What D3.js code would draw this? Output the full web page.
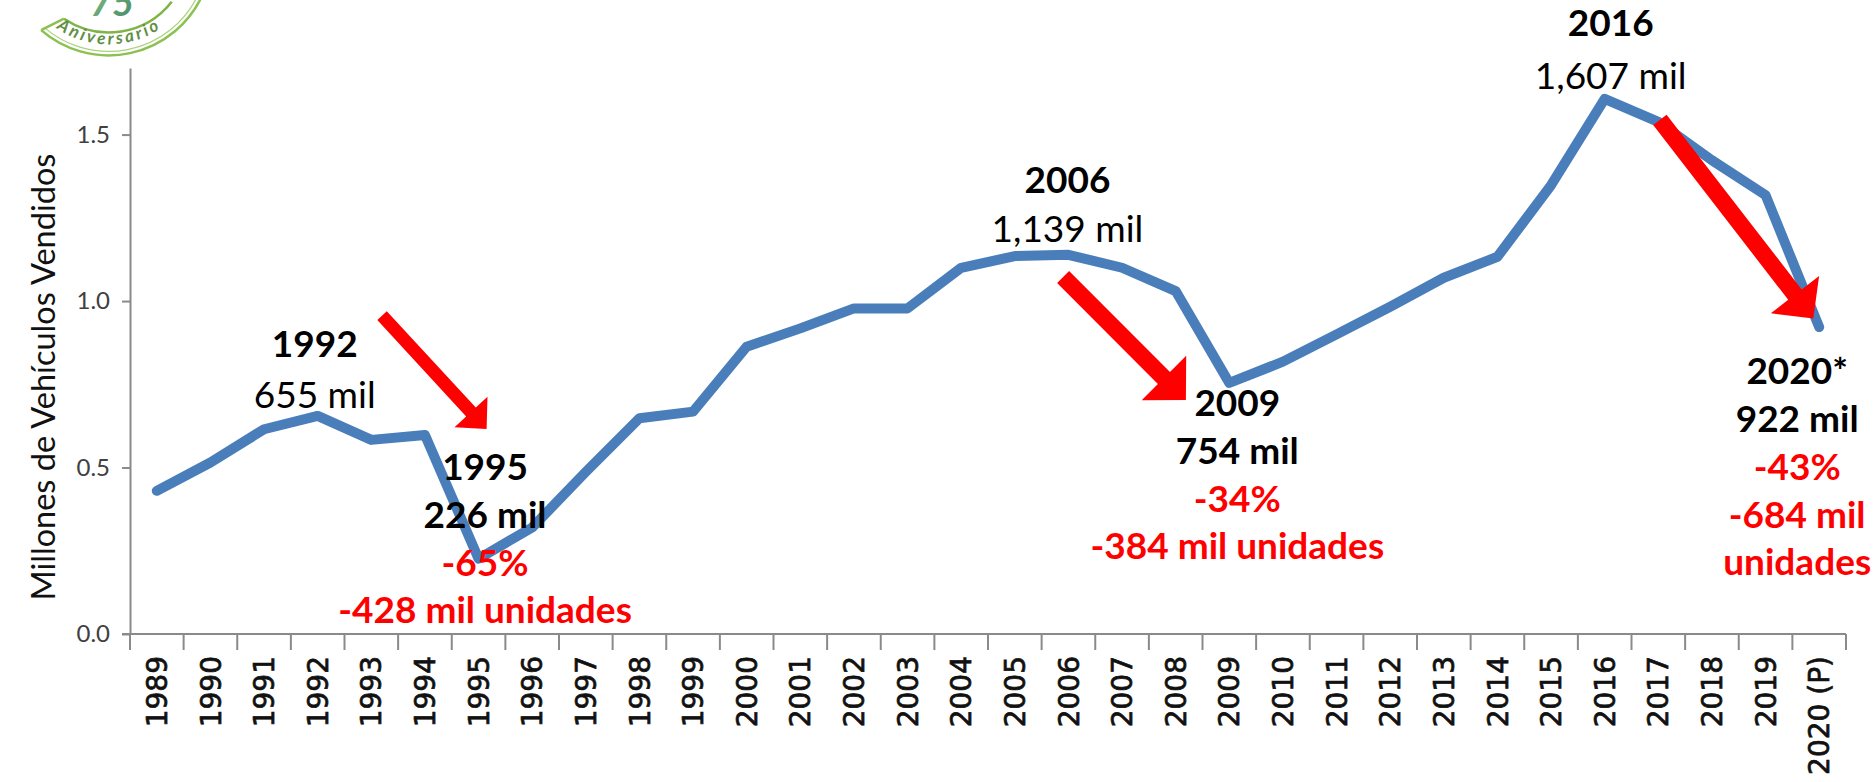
<!DOCTYPE html>
<html><head><meta charset="utf-8">
<script src="https://cdn.jsdelivr.net/npm/d3@7"></script>
<style>body{margin:0;background:#fff;} svg{display:block;}</style>
</head><body>
<svg id="c" width="1876" height="782"></svg>
<script>
// ---------------- data ----------------
const years = ["1989","1990","1991","1992","1993","1994","1995","1996","1997","1998","1999","2000",
  "2001","2002","2003","2004","2005","2006","2007","2008","2009","2010","2011","2012","2013","2014",
  "2015","2016","2017","2018","2019","2020 (P)"];
const sales = [0.43,0.515,0.615,0.655,0.583,0.598,0.226,0.32,0.487,0.648,0.668,0.863,
  0.918,0.978,0.978,1.10,1.135,1.139,1.10,1.03,0.754,0.818,0.90,0.983,1.07,1.133,
  1.348,1.607,1.538,1.423,1.318,0.922];
const yTicks = [0, 0.5, 1.0, 1.5];
const yTitle = "Millones de Vehículos Vendidos";

// annotation texts
const annoYears = ["1992","1995","2006","2009","2016","2020 (P)"];
const annoTexts = [
  ["1992","655 mil"],
  ["1995","226 mil","-65%","-428 mil unidades"],
  ["2006","1,139 mil"],
  ["2009","754 mil","-34%","-384 mil unidades"],
  ["2016","1,607 mil"],
  ["2020*","922 mil","-43%","-684 mil","unidades"]
];
// arrows: [tailYear, tailValue] -> [tipYear, tipValue]
const arrowFrom = [[1993.2,0.956],[2005.9,1.072],[2017.03,1.544]];
const arrowTo   = [[1995.15,0.616],[2008.19,0.703],[2019.89,0.948]];

// ---------------- layout / style ----------------
const W=1876,H=782;
const plot={left:130,right:1846,top:68,bottom:634};
const lineColor="#4a7ebb", axisColor="#8a8a8a", red="#ff0000";
const annoStyle = [
  {dx:-3, base:[-59,-8],            w:["b","n"],            c:["#000","#000"]},
  {dx:6.5,base:[-79,-31,17,64],     w:["b","b","b","b"],    c:["#000","#000",red,red]},
  {dx:-1, base:[-62,-13],           w:["b","n"],            c:["#000","#000"]},
  {dx:8,  base:[33,81,129,176],     w:["b","b","b","b"],    c:["#000","#000",red,red]},
  {dx:6,  base:[-63,-10],           w:["b","n"],            c:["#000","#000"]},
  {dx:-22,base:[57,105,153,201,248],w:["b","b","b","b","b"],c:["#000","#000",red,red,red]}
];
const arrowStyle=[{w:13,hw:45,hl:23},{w:17,hw:63,hl:31},{w:17,hw:61,hl:30}];

const svg=d3.select("#c");
svg.append("rect").attr("width",W).attr("height",H).attr("fill","#fff");

const x=d3.scaleBand().domain(years).range([plot.left,plot.right]).padding(0);
const xc=d=>x(d)+x.bandwidth()/2;
const xYear=d3.scaleLinear().domain([1988.5,2020.5]).range([plot.left,plot.right]);
const y=d3.scaleLinear().domain([0,1.7]).range([plot.bottom,plot.top]);

// ---------------- axes ----------------
const yAx=svg.append("g").attr("transform",`translate(${plot.left},0)`)
  .call(d3.axisLeft(y).tickValues(yTicks).tickFormat(d3.format(".1f")).tickSize(8).tickSizeOuter(0).tickPadding(12));
yAx.select(".domain").attr("stroke",axisColor).attr("stroke-width",2);
yAx.selectAll(".tick line").attr("stroke",axisColor).attr("stroke-width",2);
yAx.selectAll(".tick text").attr("font-family","Lato").attr("font-size",24).attr("fill","#404040");

// x axis line (extends left by tick length)
svg.append("line").attr("x1",plot.left-8).attr("x2",plot.right)
  .attr("y1",y(0)).attr("y2",y(0)).attr("stroke",axisColor).attr("stroke-width",2);
// boundary ticks
const bounds=years.map(d=>x(d)).concat([x.range()[1]]);
svg.append("g").selectAll("line").data(bounds).join("line")
  .attr("x1",d=>d).attr("x2",d=>d).attr("y1",y(0)).attr("y2",y(0)+16)
  .attr("stroke",axisColor).attr("stroke-width",2);
// x labels
svg.append("g").selectAll("text").data(years).join("text")
  .attr("transform",d=>`translate(${xc(d)},${y(0)+22}) rotate(-90)`)
  .attr("text-anchor","end").attr("dy","0.36em")
  .attr("font-family","DejaVu Sans").attr("font-size",28)
  .attr("fill","#111").attr("stroke","#111").attr("stroke-width",0.7).text(d=>d);

// y title
svg.append("text").attr("transform",`translate(55,377) rotate(-90)`)
  .attr("text-anchor","middle").attr("font-family","Lato").attr("font-size",32.5)
  .attr("fill","#111").text(yTitle);

// ---------------- line ----------------
svg.append("path").datum(sales)
  .attr("d",d3.line().x((d,i)=>xc(years[i])).y(d=>y(d)))
  .attr("fill","none").attr("stroke",lineColor).attr("stroke-width",10)
  .attr("stroke-linejoin","round").attr("stroke-linecap","round");

// ---------------- arrows ----------------
function arrowPath(T,P,s){
  const dx=P[0]-T[0],dy=P[1]-T[1],L=Math.hypot(dx,dy);
  const u=[dx/L,dy/L],n=[-u[1],u[0]];
  const B=[P[0]-u[0]*s.hl,P[1]-u[1]*s.hl];
  const pt=(p,k)=>[p[0]+n[0]*k,p[1]+n[1]*k];
  const pts=[pt(T,s.w/2),pt(B,s.w/2),pt(B,s.hw/2),P,pt(B,-s.hw/2),pt(B,-s.w/2),pt(T,-s.w/2)];
  return "M"+pts.map(p=>p[0].toFixed(1)+","+p[1].toFixed(1)).join("L")+"Z";
}
svg.append("g").selectAll("path").data(arrowFrom).join("path")
  .attr("d",(d,i)=>arrowPath([xYear(d[0]),y(d[1])],[xYear(arrowTo[i][0]),y(arrowTo[i][1])],arrowStyle[i]))
  .attr("fill",red);

// ---------------- annotations ----------------
annoYears.forEach((yr,i)=>{
  const idx=years.indexOf(yr);
  const cx=xc(yr)+annoStyle[i].dx, cy=y(sales[idx]);
  annoTexts[i].forEach((t,j)=>{
    svg.append("text").attr("x",cx).attr("y",cy+annoStyle[i].base[j])
      .attr("text-anchor","middle").attr("font-family","Lato")
      .attr("font-weight",annoStyle[i].w[j]==="b"?"bold":"normal")
      .attr("font-size",37).attr("fill",annoStyle[i].c[j]).text(t);
  });
});

// ---------------- logo (75 Aniversario) ----------------
const lg=svg.append("g");
const defs=svg.append("defs");
const gr=defs.append("linearGradient").attr("id","g75").attr("x1","0").attr("y1","0").attr("x2","1").attr("y2","1");
gr.append("stop").attr("offset","0").attr("stop-color","#8fc08a");
gr.append("stop").attr("offset","1").attr("stop-color","#3f8a62");
const C=[108.7,-47.6];
const ap=(r,a)=>{const t=a*Math.PI/180;return [C[0]+r*Math.cos(t),C[1]+r*Math.sin(t)];};
const arcD=(r,a0,a1)=>{const p0=ap(r,a0),p1=ap(r,a1);return `M${p0[0]},${p0[1]}A${r},${r} 0 0 0 ${p1[0]},${p1[1]}`;};
lg.append("path").attr("d",arcD(103,131,25)).attr("fill","none").attr("stroke","#8cc152").attr("stroke-width",2.5);
lg.append("path").attr("d",arcD(99,131,27)).attr("fill","none").attr("stroke","#a9d27a").attr("stroke-width",1.2);
lg.append("path").attr("d",arcD(80,124,38)).attr("fill","none").attr("stroke","#7fb446").attr("stroke-width",2.5);
const l0=ap(103,131),l1=ap(80,124);
lg.append("path").attr("d",`M${l0[0]},${l0[1]}L${l1[0]},${l1[1]}`).attr("stroke","#8cc152").attr("stroke-width",2.5);
lg.append("text").attr("x",112).attr("y",16).attr("text-anchor","middle")
  .attr("font-family","Lato").attr("font-weight","bold").attr("font-style","italic")
  .attr("font-size",38).attr("fill","url(#g75)").text("75");
defs.append("path").attr("id","anPath").attr("d",arcD(92,128,42));
lg.append("text").attr("font-family","Lato").attr("font-weight","bold").attr("font-style","italic")
  .attr("font-size",17).attr("fill","#5f8f45")
  .append("textPath").attr("href","#anPath").attr("startOffset",5).attr("textLength",110)
  .attr("lengthAdjust","spacing").text("Aniversario");
</script>
</body></html>
